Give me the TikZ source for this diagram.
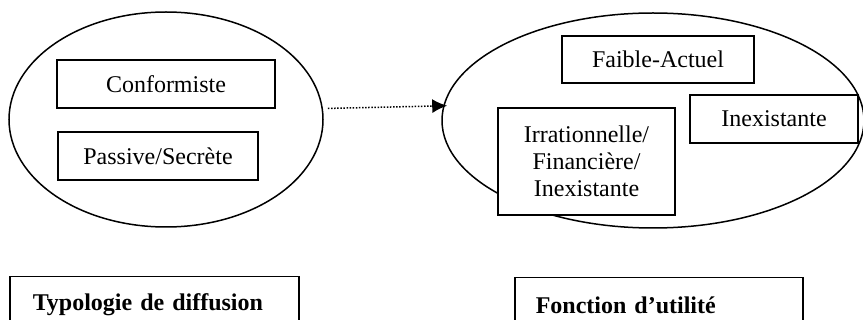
\documentclass[tikz,border=0pt]{standalone}
\usepackage{fontspec}
\setmainfont{Liberation Serif}
\usetikzlibrary{positioning,shapes.geometric,arrows.meta}

\begin{document}
\begin{tikzpicture}[x=1pt, y=-1pt, line width=1.5pt,
    font=\fontsize{24}{26.8}\selectfont,
    group/.style={ellipse, draw, inner sep=0pt},
    item/.style={draw, fill=white, align=center, inner sep=0pt},
    title/.style={draw, fill=white, align=left, anchor=north west,
      minimum height=55pt, font=\fontsize{24}{26.8}\selectfont\bfseries},
    flow/.style={dash pattern=on 1.5pt off 1.6pt, shorten <=5pt,
      shorten >=-4pt, -{Latex[length=15pt,width=14pt]}}]
  \useasboundingbox (0,0) rectangle (863,320);

  % the two groups
  \node[group, minimum width=314pt, minimum height=215pt] (diff) at (166,119.5) {};
  \node[group, minimum width=422pt, minimum height=215pt] (util) at (653,120.5) {};

  % typologie de diffusion
  \node[item, minimum width=218pt, minimum height=48pt] (conf) at (166,84) {Conformiste};
  \node[item, minimum width=200pt, minimum height=48pt] (pass) at (158,156) {Passive/Secrète};

  % fonction d'utilite
  \node[item, minimum width=192pt, minimum height=47pt] (faib) at (658,59.5) {Faible-Actuel};
  \node[item, minimum width=168pt, minimum height=48pt] (inex) at (774,119) {Inexistante};
  \node[item, minimum width=177pt, minimum height=107pt] (irra) at (586.5,161.5)
    {Irrationnelle/\\Financière/\\Inexistante};

  \draw[flow] (diff.4.6) -- (util.176.6);

  % legends
  \node[title, text width=243pt, inner xsep=23pt, inner ysep=0pt] (tdif) at (9,276)
    {Typologie de diffusion};
  \node[title, text width=246pt, inner xsep=21pt, inner ysep=0pt] (futi) at (514,277)
    {Fonction d’utilité};
\end{tikzpicture}
\end{document}
